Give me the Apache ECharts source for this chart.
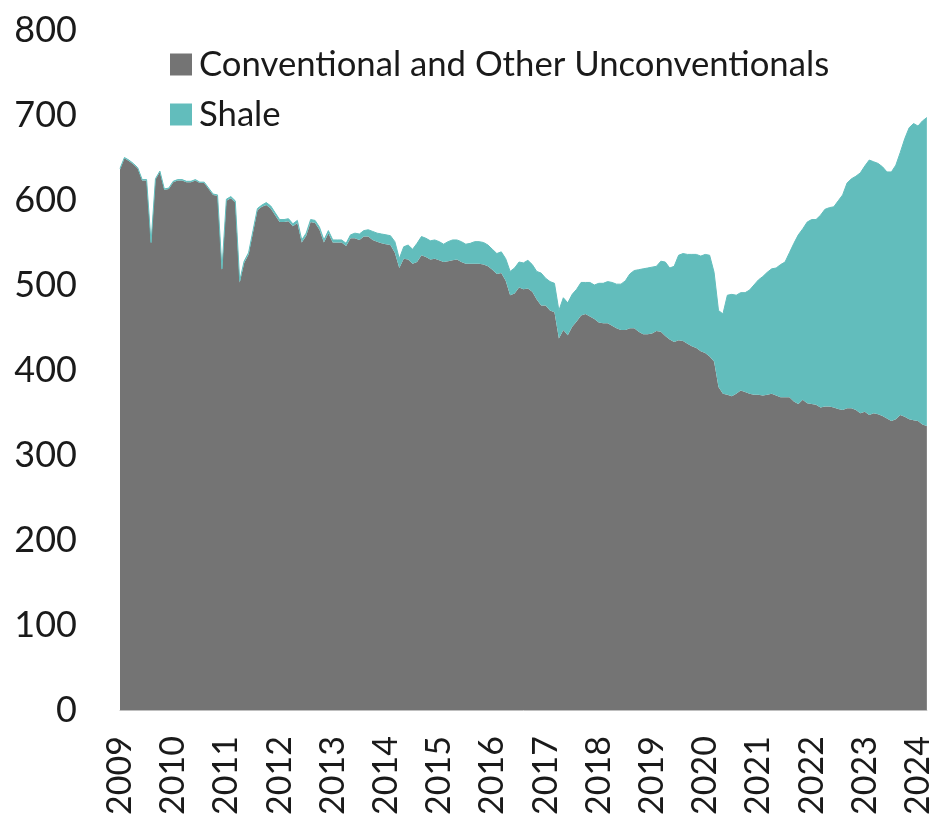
<!DOCTYPE html>
<html>
<head>
<meta charset="utf-8">
<script src="https://cdn.jsdelivr.net/npm/echarts@6/dist/echarts.min.js"></script>
<style>
  html, body { margin: 0; padding: 0; background: #fff; }
  #chart { width: 935px; height: 823px; }
</style>
</head>
<body>
<div id="chart"></div>
<script>
const years = ['2009', '2010', '2011', '2012', '2013', '2014', '2015', '2016',
    '2017', '2018', '2019', '2020', '2021', '2022', '2023', '2024'];

// monthly values, Jan 2009 .. Mar 2024
const conventional = [
    636, 649, 646, 642, 637, 623, 623, 549, 624, 633, 612, 613,
    621, 623, 623, 621, 621, 623, 620, 620, 613, 606, 605, 518,
    599, 602, 597, 503, 526, 536, 562, 588, 592, 594, 590, 582,
    574, 574, 575, 569, 573, 550, 558, 574, 573, 565, 550, 561,
    550, 550, 550, 546, 555, 555, 553, 557, 557, 553, 551, 549,
    548, 547, 538, 520, 531, 530, 525, 527, 535, 533, 530, 531,
    529, 527, 528, 529, 530, 527, 525, 525, 525, 525, 524, 522,
    518, 513, 514, 505, 488, 490, 497, 495, 496, 492, 483, 476,
    476, 470, 468, 437, 447, 441, 451, 457, 464, 466, 463, 460,
    456, 455, 455, 452, 449, 447, 447, 449, 449, 445, 442, 442,
    443, 446, 445, 440, 436, 433, 435, 434, 431, 428, 426, 422,
    420, 416, 410, 380, 372, 371, 369, 372, 376, 374, 372, 371,
    371, 370, 371, 372, 370, 368, 368, 368, 363, 360, 365, 361,
    360, 359, 356, 357, 357, 356, 354, 353, 355, 355, 353, 349,
    351, 347, 349, 348, 346, 343, 340, 342, 347, 345, 342, 341,
    340, 336, 334
];

const shale = [
    1, 1, 1, 1, 1, 1, 1, 1, 1, 1, 1, 1,
    1, 1, 1, 1, 1, 1, 1, 1, 1, 1, 1, 1,
    2, 2, 2, 2, 2, 2, 2, 2, 2, 3, 3, 3,
    3, 3, 3, 3, 3, 3, 3, 3, 3, 3, 3, 3,
    3, 3, 3, 3, 4, 6, 7, 7, 8, 10, 10, 11,
    11, 11, 13, 11, 14, 17, 17, 22, 22, 22, 22, 22,
    22, 21, 23, 24, 23, 24, 23, 24, 26, 26, 26, 25,
    24, 24, 25, 26, 28, 30, 30, 31, 33, 32, 33, 38,
    32, 34, 34, 33, 38, 38, 38, 38, 39, 37, 40, 40,
    46, 47, 49, 51, 52, 54, 58, 64, 68, 73, 77, 78,
    78, 76, 83, 87, 84, 89, 100, 103, 105, 108, 110, 112,
    116, 119, 105, 90, 94, 117, 120, 116, 115, 117, 122, 129,
    135, 140, 144, 147, 150, 156, 159, 170, 186, 199, 201, 213,
    217, 218, 226, 232, 234, 236, 245, 253, 265, 270, 275, 283,
    289, 300, 296, 295, 293, 290, 293, 299, 309, 327, 343, 349,
    347, 357, 363
];

const months = [];
for (const y of years) {
    for (let m = 1; m <= 12; m++) months.push(`${y}-${String(m).padStart(2, '0')}`);
}
months.length = conventional.length;

const font = 'Lato';
const textColor = '#1a1a1a';

const chart = echarts.init(document.getElementById('chart'));
chart.setOption({
    animation: false,
    textStyle: { fontFamily: font },
    legend: {
        orient: 'vertical',
        left: 165,
        top: 42,
        icon: 'rect',
        itemWidth: 22,
        itemHeight: 22,
        itemGap: 15,
        textStyle: { fontFamily: font, fontSize: 34.7, color: textColor, padding: [0, 0, 0, 2] },
        data: ['Conventional and Other Unconventionals', 'Shale'],
    },
    grid: { left: 120, right: 7, top: 30, bottom: 113 },
    xAxis: {
        type: 'category',
        boundaryGap: false,
        data: months,
        axisLine: { lineStyle: { color: '#bfbfbf', width: 1 } },
        axisTick: { show: false },
        splitLine: { show: false },
        axisLabel: {
            interval: (i) => i % 12 === 0,
            rotate: 90,
            margin: 26,
            fontFamily: font,
            fontSize: 34,
            color: textColor,
            formatter: (v) => v.slice(0, 4),
        },
    },
    yAxis: {
        type: 'value',
        min: 0,
        max: 800,
        interval: 100,
        axisLine: { show: false },
        axisTick: { show: false },
        splitLine: { show: false },
        axisLabel: { margin: 43, fontFamily: font, fontSize: 36, color: textColor },
    },
    series: [
        {
            name: 'Conventional and Other Unconventionals',
            type: 'line',
            stack: 'total',
            data: conventional,
            symbol: 'none',
            itemStyle: { color: '#747474' },
            lineStyle: { width: 0 },
            areaStyle: { color: '#747474', opacity: 1 },
        },
        {
            name: 'Shale',
            type: 'line',
            stack: 'total',
            data: shale,
            symbol: 'none',
            itemStyle: { color: '#62bdbc' },
            lineStyle: { width: 1, color: '#62bdbc' },
            areaStyle: { color: '#62bdbc', opacity: 1 },
        },
    ],
});
</script>
</body>
</html>
